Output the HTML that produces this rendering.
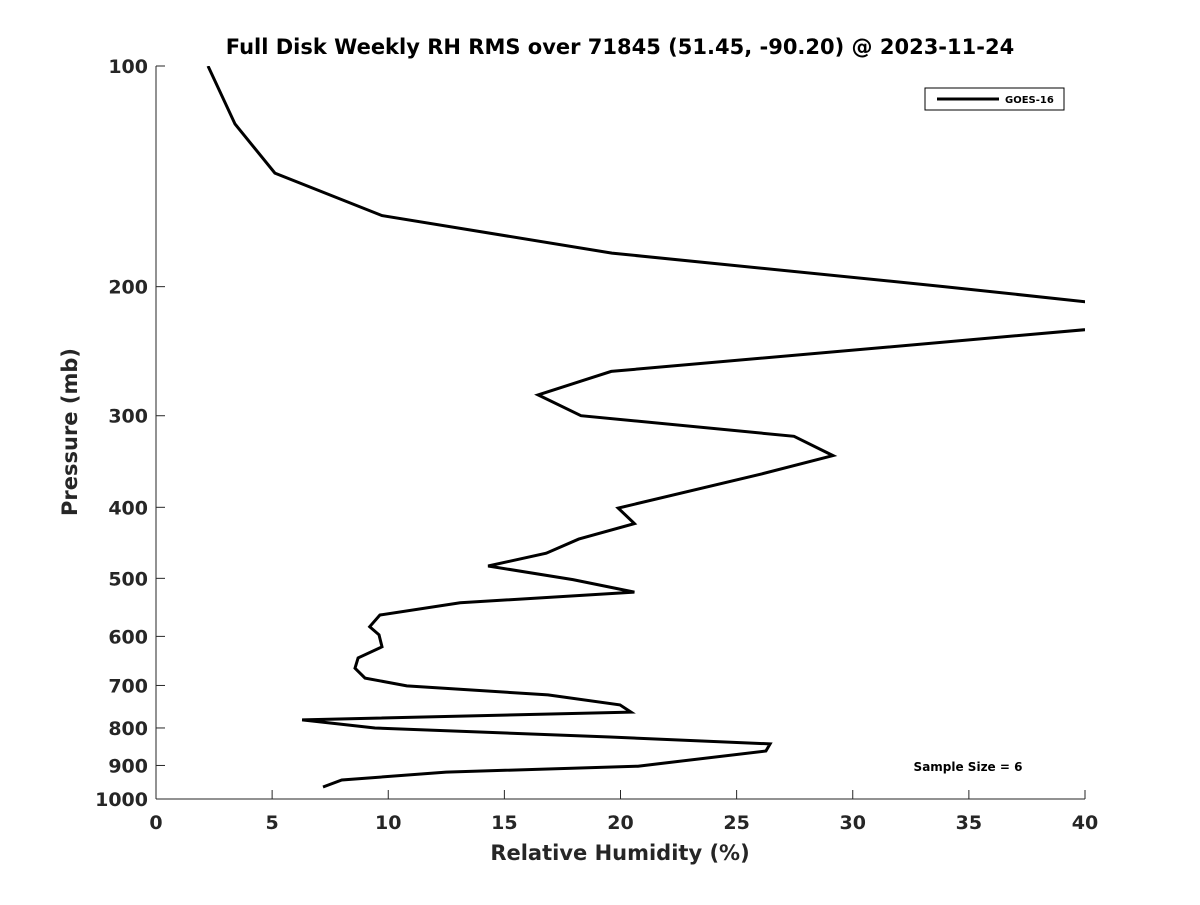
<!DOCTYPE html>
<html><head><meta charset="utf-8"><style>
body{margin:0;background:#fff}
svg text{font-family:"DejaVu Sans","Liberation Sans",sans-serif;font-weight:bold;fill:#262626}
</style></head><body>
<svg width="1200" height="900" xmlns="http://www.w3.org/2000/svg">
<rect width="1200" height="900" fill="#fff"/>
<text x="620" y="54" text-anchor="middle" font-size="21" fill="#000" style="fill:#000">Full Disk Weekly RH RMS over 71845 (51.45, -90.20) @ 2023-11-24</text>
<g id="axes"></g>
<defs><clipPath id="plotclip"><rect x="156" y="66" width="929" height="733"/></clipPath></defs>
<polyline id="series" fill="none" stroke="#000" stroke-width="3" clip-path="url(#plotclip)"/>
<g>
<rect x="925" y="88" width="139" height="22" fill="#fff" stroke="#000" stroke-width="1"/>
<line x1="937" y1="99" x2="999" y2="99" stroke="#000" stroke-width="3"/>
<text x="1005" y="103" font-size="10" style="fill:#000">GOES-16</text>
</g>
<text x="968" y="771" text-anchor="middle" font-size="12" style="fill:#000">Sample Size = 6</text>
<text x="620" y="860" text-anchor="middle" font-size="21">Relative Humidity (%)</text>
<text transform="translate(77,432) rotate(-90)" text-anchor="middle" font-size="21">Pressure (mb)</text>
</svg>
<script>
const rhValues=[2.24,3.40,5.12,9.73,19.63,33.97,42,42,19.6,16.45,18.3,27.47,29.15,26.1,19.9,20.6,18.2,16.8,14.3,17.95,20.6,13.1,9.64,9.2,9.6,9.73,8.7,8.57,9.0,10.8,16.88,19.98,20.45,6.29,9.43,19.55,26.44,26.26,20.75,12.49,8.0,7.19];
const pressureLevels=[100,120,140,160,180,200,213,226,261,281,300,320,340,360,401,421,442,462,481,502,522,540,561,582,597,620,642,663,684,701,721,744,761,780,800,823,841,860,902,919,942,963];
const xTicks=[0,5,10,15,20,25,30,35,40];
const yTicks=[100,200,300,400,500,600,700,800,900,1000];
const X0=156,X1=1085,Y0=66,Y1=799;
function xs(v){return X0+(v-0)/40*(X1-X0);}
function ys(p){return Y0+Math.log10(p/100)*(Y1-Y0);}
const NS="http://www.w3.org/2000/svg";
const ax=document.getElementById('axes');
function mk(t,a){const e=document.createElementNS(NS,t);for(const k in a)e.setAttribute(k,a[k]);return e;}
const l1=mk('line',{x1:X0,y1:Y0,x2:X0,y2:Y1,stroke:'#262626','stroke-width':1});


ax.appendChild(l1);
const l2=mk('line',{x1:X0,y1:Y1,x2:X1,y2:Y1,stroke:'#262626','stroke-width':1});


ax.appendChild(l2);
xTicks.forEach(v=>{
 const x=xs(v);
 ax.appendChild(mk('line',{x1:x,y1:Y1,x2:x,y2:Y1-9,stroke:'#262626'}));
 const t=mk('text',{x:x,y:Y1+30,'text-anchor':'middle','font-size':19});
 t.textContent=v;
 
 
 ax.appendChild(t);
});
yTicks.forEach(p=>{
 const y=ys(p);
 ax.appendChild(mk('line',{x1:X0,y1:y,x2:X0+9,y2:y,stroke:'#262626'}));
 const t=mk('text',{x:X0-8,y:y+7,'text-anchor':'end','font-size':19});
 t.textContent=p;
 
 
 ax.appendChild(t);
});
document.getElementById('series').setAttribute('points',rhValues.map((v,i)=>xs(v).toFixed(1)+','+ys(pressureLevels[i]).toFixed(1)).join(' '));
</script>
</body></html>
